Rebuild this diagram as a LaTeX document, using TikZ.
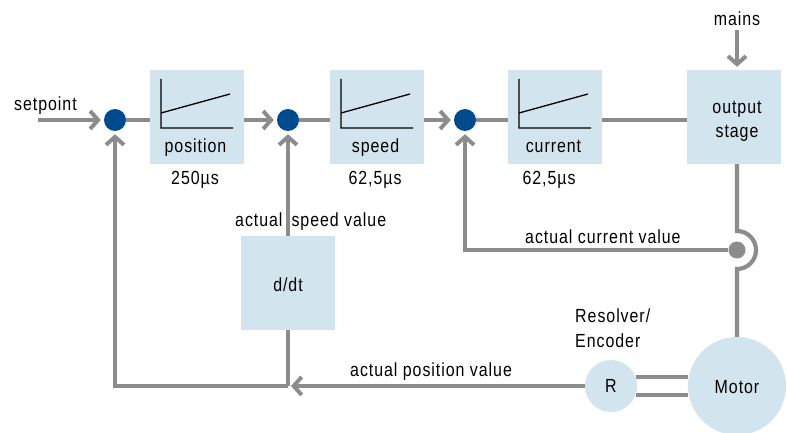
\documentclass[tikz,border=0pt]{standalone}
\usepackage{fontspec}
\setmainfont[FakeStretch=0.84,LetterSpace=5]{Liberation Sans}
\usetikzlibrary{arrows.meta, positioning}
\definecolor{blockblue}{HTML}{D2E4ED}
\definecolor{dotblue}{HTML}{004B8D}
\definecolor{linegray}{HTML}{8C8C8C}
\newcommand\ppbb{path picture bounding box}
\tikzset{
	block/.style = {rectangle, fill=blockblue, minimum size=94pt, inner sep=0pt},
	ctrlblock/.style = {block, text height=76pt, text depth=4pt,
		execute at begin node={\hspace*{-3pt}},
		path picture={\draw [black, line width=1.3pt]
			([shift={(11pt,-9pt)}] \ppbb.north west) |- ([shift={(-11pt,-58pt)}] \ppbb.north east)
			([shift={(11pt,-43pt)}] \ppbb.north west) -- ([shift={(-14pt,-24pt)}] \ppbb.north east);
		},% end of path picture
	},
	round block/.style = {circle, fill=blockblue, inner sep=0pt},
	junction/.style = {circle, fill=dotblue, minimum size=22pt, inner sep=0pt},
	caption/.style = {inner sep=0pt, anchor=base},
	link/.style = {line width=4.2pt, draw=linegray},
	arrow/.style = {link, -{Straight Barb[length=8pt,width=18pt,line width=4pt]}, shorten >=3pt},
}
\begin{document}
\begin{tikzpicture}[x=1pt, y=-1pt, font=\fontsize{19}{20}\selectfont]
\useasboundingbox (0,0) rectangle (787,433);
% Placement of nodes
\node (position) [ctrlblock] at (197,117) {position};
\node (speed) [ctrlblock, right of=position, node distance=180pt] {speed};
\node (current) [ctrlblock, right of=speed, node distance=178pt] {current};
\node (output) [block, right of=current, node distance=179pt,
	label={[align=center, xshift=3pt, yshift=-4pt]center:output\\[4pt]stage}] {};
\node (ddt) [block, text height=17pt, text depth=0pt] at (288,283) {d/dt};
\node (motor) [round block, minimum size=98pt, text height=15pt, text depth=0pt] at (737,386) {Motor};
\node (resolver) [round block, minimum size=52pt] at (611,386) {R};

% Junctions
\node (sumPos) [junction] at (115,120) {};
\node (sumSpeed) [junction] at (288,120) {};
\node (sumCur) [junction] at (465,120) {};
\node (tap) [circle, fill=linegray, minimum size=17pt, inner sep=0pt] at (737,250) {};

% Free ends
\coordinate (setIn) at (38,120);
\coordinate (mainsIn) at (737,30);
\coordinate (hopTop) at (737,231);
\coordinate (posTee) at (288,386);
\coordinate (posCorner) at (115,386);

% Texts
\node (setLabel) [caption, anchor=base west] at (14,111) {setpoint};
\node (mainsLabel) [caption] at (737,26) {mains};
\node (posTime) [caption] at (195,184) {250µs};
\node (speedTime) [caption] at (375,184) {62,5µs};
\node (curTime) [caption] at (549,184) {62,5µs};
\node (speedLabel) [caption, anchor=base west] at (235,226) {actual\hspace{9pt}speed value};
\node (curLabel) [caption, anchor=base west] at (525,243) {actual current value};
\node (posLabel) [caption, anchor=base west] at (350,376) {actual position value};
\node (resLabel) [caption, anchor=base west, align=left] at (575,347) {Resolver/\\[5pt]Encoder};

% Placement of edges
\draw [arrow] (setIn) -- (sumPos);
\draw [link] (sumPos) -- (sumPos -| position.west);
\draw [arrow] (sumSpeed -| position.east) -- (sumSpeed);
\draw [link] (sumSpeed) -- (sumSpeed -| speed.west);
\draw [arrow] (sumCur -| speed.east) -- (sumCur);
\draw [link] (sumCur) -- (sumCur -| current.west);
\draw [link] (sumCur -| current.east) -- (sumCur -| output.west);
\draw [arrow] (mainsIn) -- (mainsIn |- output.north);

% output stage to motor with hop
\draw [link] (hopTop |- output.south) -- (hopTop) arc[start angle=-90, end angle=90, radius=19] -- (motor.north);

% feedback
\draw [arrow] (tap) -| (sumCur);
\draw [arrow] (ddt) -- (sumSpeed);
\draw [link] (ddt) -- (posTee);
\draw [arrow] (resolver) -- (posTee);
\draw [arrow] (posTee) -- (posCorner) -- (sumPos);
\draw [link] (resolver.20) -- (resolver.20 -| motor.west);
\draw [link] (resolver.-20) -- (resolver.-20 -| motor.west);
\end{tikzpicture}
\end{document}
